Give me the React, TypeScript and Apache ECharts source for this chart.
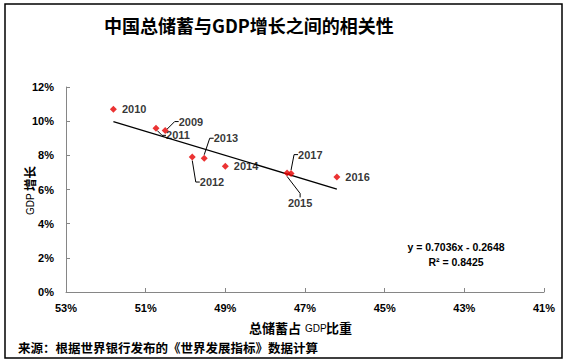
import React, { useEffect, useRef } from "react";
import * as echarts from "echarts";

// ---- data ----
const years = ["2009", "2010", "2011", "2012", "2013", "2014", "2015", "2016", "2017"];
const savingsPct = [50.51, 51.81, 50.74, 49.83, 49.53, 49.0, 47.45, 46.2, 47.35];
const gdpGrowthPct = [9.45, 10.7, 9.58, 7.9, 7.83, 7.36, 6.97, 6.73, 6.93];
const trendSlope = 0.7036;
const trendIntercept = -0.2648;
const xMin = 41;
const xMax = 53;
const xStep = 2;
const yMin = 0;
const yMax = 12;
const yStep = 2;
const titleText = "中国总储蓄与GDP增长之间的相关性";
const sourceText = "来源：根据世界银行发布的《世界发展指标》数据计算";
const equationText = "y = 0.7036x - 0.2648";
const r2Text = "R² = 0.8425";

// label offsets (layout only)
const labelShift: Record<string, [number, number]> = {
  "2009": [5, -9],
  "2011": [1.5, 7],
  "2012": [-1, 25],
  "2013": [1, -20],
  "2017": [-1.5, -19],
  "2015": [-7.7, 30],
};

const NUM_FONT = "'Liberation Sans', Arial, sans-serif";
const CJK_FONT = "'Noto Sans CJK SC', sans-serif";

function txt(x: number, y: number, text: string, font: string, size: number, bold: boolean, align = "left") {
  return {
    type: "text",
    x,
    y,
    style: {
      text,
      fontFamily: font,
      fontWeight: bold ? "bold" : "normal",
      fontSize: size,
      fill: "#000",
      align,
      verticalAlign: "middle",
    },
  };
}

export default function App() {
  const ref = useRef<HTMLDivElement>(null);
  useEffect(() => {
    if (!ref.current) return;
    const chart = echarts.init(ref.current, undefined, { renderer: "svg" });
    const pts = savingsPct.map((x, i) => ({
      value: [x, gdpGrowthPct[i]],
      name: years[i],
      labelLine: { show: !!labelShift[years[i]] },
    }));
    const x0 = Math.max(...savingsPct);
    const x1 = Math.min(...savingsPct);
    const trend = [x0, x1].map((x) => [x, (trendSlope * (x / 100) + trendIntercept) * 100]);

    chart.setOption({
      animation: false,
      backgroundColor: "#fff",
      grid: { left: 66, right: 27, top: 87, bottom: 72 },
      xAxis: {
        type: "value",
        min: xMin,
        max: xMax,
        interval: xStep,
        inverse: true,
        axisLine: { show: true, onZero: false, lineStyle: { color: "#868686", width: 1 } },
        axisTick: { show: true, inside: true, length: 4, lineStyle: { color: "#868686" } },
        splitLine: { show: false },
        axisLabel: {
          formatter: "{value}%",
          color: "#000",
          fontFamily: NUM_FONT,
          fontWeight: "bold",
          fontSize: 11,
          margin: 10,
        },
      },
      yAxis: {
        type: "value",
        min: yMin,
        max: yMax,
        interval: yStep,
        axisLine: { show: true, onZero: false, lineStyle: { color: "#868686", width: 1 } },
        axisTick: { show: true, inside: true, length: 4, lineStyle: { color: "#868686" } },
        splitLine: { show: false },
        axisLabel: {
          formatter: "{value}%",
          color: "#000",
          fontFamily: NUM_FONT,
          fontWeight: "bold",
          fontSize: 11,
          margin: 12,
        },
      },
      series: [
        {
          type: "line",
          data: trend,
          showSymbol: false,
          symbol: "none",
          silent: true,
          lineStyle: { color: "#000", width: 1.3 },
          z: 1,
        },
        {
          type: "scatter",
          data: pts,
          symbol: "diamond",
          symbolSize: 7,
          itemStyle: { color: "#e60000" },
          z: 3,
          label: {
            show: true,
            position: "right",
            distance: 5,
            formatter: (p: any) => p.name,
            color: "#000",
            fontFamily: NUM_FONT,
            fontWeight: "bold",
            fontSize: 11,
          },
          labelLine: {
            show: false,
            length2: 4,
            lineStyle: { color: "#000", width: 1 },
          },
          labelLayout: (params: any) => {
            const s = labelShift[years[params.dataIndex]];
            return s ? { dx: s[0], dy: s[1] } : {};
          },
        },
      ],
      graphic: [
        {
          type: "rect",
          shape: { x: 5, y: 4, width: 557, height: 354 },
          style: { fill: "none", stroke: "#000", lineWidth: 1.5 },
          silent: true,
          z: 10,
        },
        txt(104, 25, titleText, CJK_FONT, 18, true),
        {
          type: "group",
          x: 29,
          y: 190,
          rotation: Math.PI / 2,
          children: [
            txt(-25, 1.5, "GDP", NUM_FONT, 10, false),
            txt(-1, 0, "增长", CJK_FONT, 12.5, true),
          ],
        },
        txt(249, 327, "总储蓄占", CJK_FONT, 13, true),
        txt(305, 328.5, "GDP", NUM_FONT, 10, false),
        txt(326, 327, "比重", CJK_FONT, 13, true),
        txt(18, 347, sourceText, CJK_FONT, 12.5, true),
        txt(456, 247, equationText, NUM_FONT, 10.5, true, "center"),
        txt(456, 262, r2Text, NUM_FONT, 10.5, true, "center"),
      ],
    });
    return () => chart.dispose();
  }, []);
  return (
    <div
      ref={ref}
      style={{ position: "absolute", left: 0, top: 0, width: 571, height: 364 }}
    />
  );
}
